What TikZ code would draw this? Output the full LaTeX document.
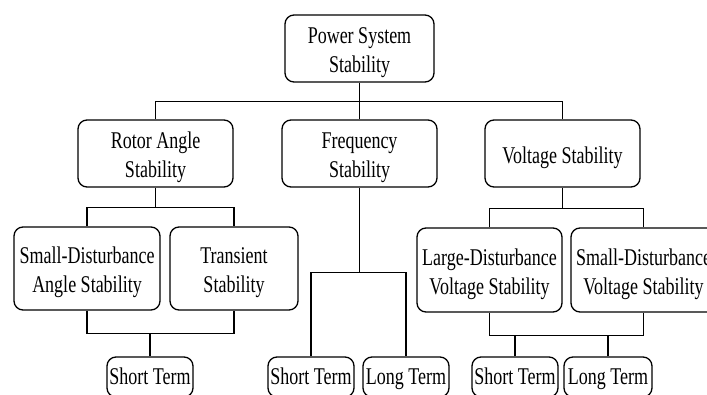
\documentclass[tikz,border=0pt]{standalone}
\usepackage{fontspec}
\setmainfont[FakeStretch=0.75]{Liberation Serif}
\newcommand{\bxt}[2][4pt]{\raisebox{-#1}[\height][\depth]{\begin{tabular}{@{}c@{}}#2\end{tabular}}}
\begin{document}
\begin{tikzpicture}[x=1pt,y=-1pt,
  box/.style={draw=black, line width=1.3pt, rounded corners=9pt, inner sep=0pt,
    align=center, font=\fontsize{24}{29}\selectfont, minimum height=#1},
  box/.default=67pt,
  conn/.style={draw=black, line width=1.4pt}]
\clip (0,0) rectangle (707,395);
\fill[white] (0,0) rectangle (707,395);
% level 1
\node[box, minimum width=149pt] (root) at (359.5,48.5) {\bxt{Power System\\Stability}};
% level 2
\node[box, minimum width=155pt] (rotor) at (155.5,153.5) {\bxt{Rotor Angle\\Stability}};
\node[box, minimum width=155pt] (freq) at (359.5,153.5) {\bxt{Frequency\\Stability}};
\node[box, minimum width=155pt] (volt) at (562.5,153.5) {\bxt{Voltage Stability}};
% level 3
\node[box=83pt, minimum width=146pt] (sda) at (87,268.5) {\bxt{Small-Disturbance\\Angle Stability}};
\node[box=83pt, minimum width=128pt] (trans) at (234,268.5) {\bxt{Transient\\Stability}};
\node[box=84pt, minimum width=145pt] (ldv) at (489.5,270) {\bxt{Large-Disturbance\\Voltage Stability}};
\node[box=84pt, minimum width=145pt] (sdv) at (643.5,270) {\bxt{Small-Disturbance\\Voltage Stability}};
% level 4
\node[box=40pt, minimum width=86pt] (st1) at (150,377) {\bxt[2pt]{Short Term}};
\node[box=40pt, minimum width=86pt] (st2) at (311,377) {\bxt[2pt]{Short Term}};
\node[box=40pt, minimum width=86pt] (lt2) at (406,377) {\bxt[2pt]{Long Term}};
\node[box=40pt, minimum width=86pt] (st3) at (515,377) {\bxt[2pt]{Short Term}};
\node[box=40pt, minimum width=88pt] (lt3) at (608,377) {\bxt[2pt]{Long Term}};
% connectors
\draw[conn] (root.south) -- ++(0,19) coordinate (rb);
\draw[conn] (rotor.north) |- (rb) -| (volt.north);
\draw[conn] (freq.north) -- (rb);
\draw[conn] (rotor.south) -- ++(0,20) coordinate (ra);
\draw[conn] (sda.north) |- (ra) -| (trans.north);
\draw[conn] (sda.south) -- ++(0,23) coordinate (sab) -| (trans.south);
\draw[conn] (st1.north) -- (st1.north |- sab);
\draw[conn] (freq.south) -- ++(0,85) coordinate (fb);
\draw[conn] (st2.north) |- (fb) -| (lt2.north);
\draw[conn] (volt.south) -- ++(0,21) coordinate (vb);
\draw[conn] (ldv.north) |- (vb) -| (sdv.north);
\draw[conn] (ldv.south) -- ++(0,23) coordinate (lvb) -| (sdv.south);
\draw[conn] (st3.north) -- (st3.north |- lvb);
\draw[conn] (lt3.north) -- (lt3.north |- lvb);
\end{tikzpicture}
\end{document}
